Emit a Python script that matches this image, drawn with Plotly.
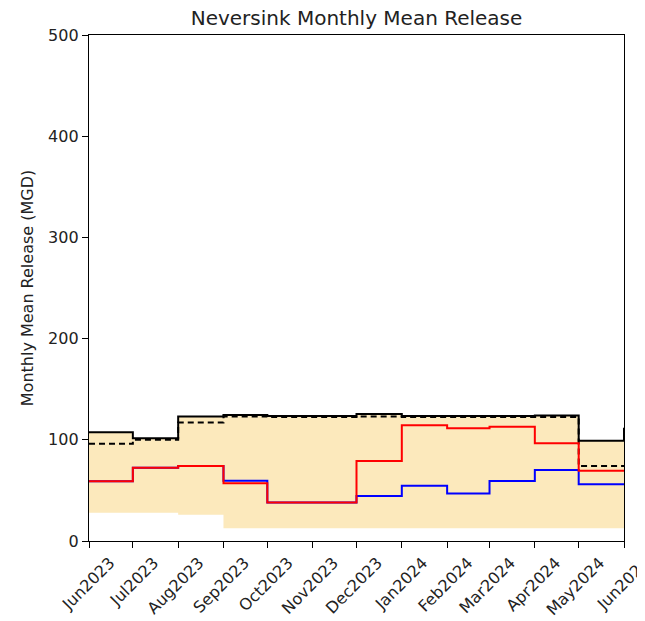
import plotly.graph_objects as go

months = ["2023-06-01", "2023-07-01", "2023-08-01", "2023-09-01", "2023-10-01",
          "2023-11-01", "2023-12-01", "2024-01-01", "2024-02-01", "2024-03-01",
          "2024-04-01", "2024-05-01", "2024-06-01"]
tick_labels = ["Jun2023", "Jul2023", "Aug2023", "Sep2023", "Oct2023", "Nov2023",
               "Dec2023", "Jan2024", "Feb2024", "Mar2024", "Apr2024", "May2024", "Jun2024"]

range_lower = [28, 28, 26, 12.5, 12.5, 12.5, 12.5, 12.5, 12.5, 12.5, 12.5, 12.5, 12.5]
range_upper = [107.5, 101.5, 123, 124.5, 123.5, 123.5, 125.5, 123.5, 123.5, 123.5, 124, 99, 112]
black_solid = [107.5, 101.5, 123, 124.5, 123.5, 123.5, 125.5, 123.5, 123.5, 123.5, 124, 99, 112]
black_dashed = [96, 100, 117, 123, 122.5, 122.5, 123, 122.5, 122.5, 122.5, 122.5, 74, 74]
red_series = [59, 72.5, 74, 57, 38, 38, 79, 114.5, 111.5, 113, 96.5, 69.5, 69.5]
blue_series = [59, 72.5, 74, 59.5, 38, 38, 44.5, 54.7, 47, 59.3, 70.2, 56, 56]

fig = go.Figure()
fig.add_trace(go.Scatter(x=months, y=range_lower, mode="lines", line=dict(width=0, shape="hv"),
                         showlegend=False, hoverinfo="skip"))
fig.add_trace(go.Scatter(x=months, y=range_upper, mode="lines", line=dict(width=0, shape="hv"),
                         fill="tonexty", fillcolor="#fce9bc", showlegend=False, hoverinfo="skip"))
fig.add_trace(go.Scatter(x=months, y=black_dashed, mode="lines",
                         line=dict(color="black", width=2, dash="6px,4px", shape="hv"), showlegend=False))
fig.add_trace(go.Scatter(x=months, y=black_solid, mode="lines",
                         line=dict(color="black", width=2, shape="hv"), showlegend=False))
fig.add_trace(go.Scatter(x=months, y=blue_series, mode="lines",
                         line=dict(color="blue", width=2, shape="hv"), showlegend=False))
fig.add_trace(go.Scatter(x=months, y=red_series, mode="lines",
                         line=dict(color="red", width=2, shape="hv"), showlegend=False))

axis_common = dict(showline=True, linecolor="black", linewidth=1.3, mirror=True,
                   ticks="outside", ticklen=6, tickwidth=1.3, tickcolor="black",
                   showgrid=False, zeroline=False, automargin=False,
                   tickfont=dict(family="DejaVu Sans", size=16, color="#222"))

W, H = 637, 613
fig.update_layout(
    width=W, height=H, autosize=False,
    margin=dict(l=81, r=21, t=27, b=80),
    plot_bgcolor="white", paper_bgcolor="white",
    font=dict(family="DejaVu Sans", color="#222"),
    title=dict(text="Neversink Monthly Mean Release", x=0.5, xref="paper", xanchor="center",
               y=1 - 10 / H, yref="container", yanchor="middle", automargin=False,
               font=dict(family="DejaVu Sans", size=20, color="#222")),
    xaxis=dict(**axis_common, range=[months[0], months[-1]], tickmode="array",
               tickvals=months, ticktext=tick_labels, tickangle=-45, ticklabelshift=21,
               ticklabelstandoff=-1, ticklabeloverflow="allow"),
    yaxis=dict(**axis_common, range=[0, 500], tickmode="linear", dtick=100,
               title=dict(text="Monthly Mean Release (MGD)", standoff=10,
                          font=dict(family="DejaVu Sans", size=16, color="#222"))),
)

fig.write_html("out.html")
